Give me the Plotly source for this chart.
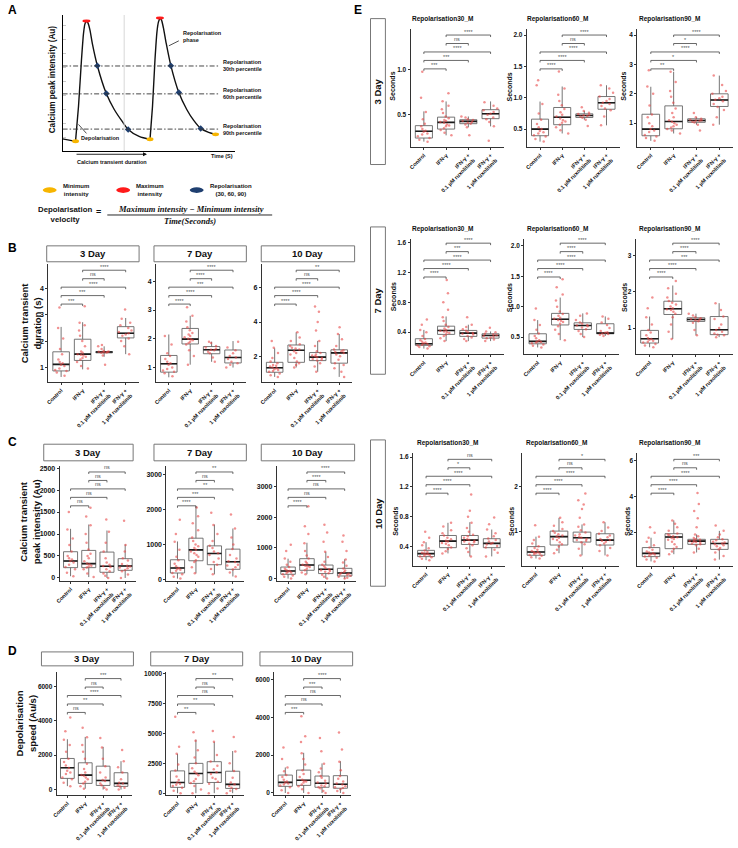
import plotly.graph_objects as go

W, H = 738, 848
FONT = "Liberation Sans"

def px(x):
    return x / W

def py(y):
    return 1 - y / H

# ---------------- DATA ----------------
GROUPS = ["Control", "IFN-γ", "IFN-γ + 0.1 µM", "IFN-γ + 1 µM"]
GROUP_TICKS = ["Control", "IFN-γ", "IFN-γ +<br>0.1 µM ruxolitinib", "IFN-γ +<br>1 µM ruxolitinib"]
PAIRS = [(0, 1), (0, 2), (0, 3), (1, 2), (1, 3)]
DAYS = ["3 Day", "7 Day", "10 Day"]
E_TITLES = ["Repolarisation30_M", "Repolarisation60_M", "Repolarisation90_M"]

# box stats per group: (lower whisker, q1, median, q3, upper whisker)
# B: calcium transient duration (s)
B3_box = [(0.63, 0.86, 1.11, 1.59, 2.54), (0.92, 1.26, 1.5, 2.07, 2.72), (1.4, 1.55, 1.58, 1.6, 1.8), (1.5, 2.12, 2.3, 2.55, 2.88)]
B3_pts = [[0.68, 0.8, 0.9, 0.95, 1.05, 1.1, 1.15, 1.3, 1.5, 1.7, 2.1, 2.5, 3.28, 0.86, 1.2],
          [0.95, 1.05, 1.2, 1.3, 1.4, 1.45, 1.5, 1.55, 1.6, 1.8, 2.0, 2.2, 2.4, 2.6, 2.7, 3.33, 1.35, 1.48],
          [1.1, 1.45, 1.55, 1.56, 1.57, 1.58, 1.59, 1.6, 1.62, 1.7, 1.8, 1.85],
          [1.5, 1.8, 2.0, 2.1, 2.2, 2.25, 2.3, 2.35, 2.4, 2.5, 2.6, 2.7, 2.85, 3.2]]
B3_sig = ["***", "***", "****", "ns", "****"]

B7_box = [(0.66, 0.84, 1.13, 1.42, 2.15), (1.1, 1.82, 1.99, 2.36, 2.8), (1.2, 1.48, 1.62, 1.73, 1.9), (1.0, 1.16, 1.35, 1.61, 1.92)]
B7_pts = [[0.7, 0.8, 0.85, 0.9, 1.0, 1.1, 1.15, 1.2, 1.3, 1.4, 1.5, 1.8, 2.1, 0.95],
          [1.1, 1.4, 1.6, 1.8, 1.85, 1.9, 1.95, 2.0, 2.05, 2.1, 2.2, 2.3, 2.4, 2.6, 2.8, 3.1, 1.98, 2.15],
          [1.2, 1.35, 1.5, 1.55, 1.6, 1.62, 1.65, 1.7, 1.75, 1.85, 1.9],
          [1.0, 1.1, 1.15, 1.2, 1.3, 1.35, 1.4, 1.5, 1.6, 1.7, 1.9]]
B7_sig = ["****", "****", "***", "****", "****"]

B10_box = [(0.8, 1.07, 1.33, 1.65, 2.47), (1.35, 1.65, 2.35, 2.66, 3.4), (1.1, 1.75, 1.95, 2.22, 2.9), (0.8, 1.6, 2.2, 2.38, 3.3)]
B10_pts = [[0.8, 0.9, 1.0, 1.1, 1.2, 1.25, 1.3, 1.35, 1.4, 1.5, 1.6, 1.7, 1.9, 2.2, 2.5, 2.9, 1.15, 1.45],
           [1.35, 1.5, 1.6, 1.7, 1.9, 2.1, 2.3, 2.4, 2.5, 2.6, 2.7, 2.9, 3.1, 3.4, 2.2, 2.45],
           [1.1, 1.4, 1.6, 1.75, 1.8, 1.9, 1.95, 2.0, 2.1, 2.2, 2.3, 2.6, 2.9, 3.5, 4.0, 4.6, 4.9, 1.85, 2.05],
           [0.8, 1.1, 1.3, 1.5, 1.6, 1.8, 2.0, 2.1, 2.2, 2.3, 2.35, 2.4, 2.6, 3.0, 3.3, 3.7, 2.25]]
B10_sig = ["****", "****", "****", "ns", "**"]

# C: calcium transient peak intensity (Au)
C3_box = [(40, 235, 385, 597, 1118), (20, 235, 326, 627, 1216), (0, 129, 265, 589, 1080), (0, 174, 272, 439, 763)]
C3_pts = [[40, 120, 200, 250, 300, 350, 385, 420, 500, 600, 750, 900, 1100, 1500, 450],
          [20, 100, 200, 240, 280, 310, 330, 380, 450, 550, 650, 800, 1000, 1200, 1400, 1600, 260, 500],
          [0, 50, 100, 150, 200, 250, 270, 350, 450, 600, 800, 1050, 1330, 300],
          [0, 80, 150, 180, 220, 260, 280, 320, 400, 450, 600, 750, 1300, 240]]
C3_sig = ["ns", "ns", "ns", "ns", "ns"]

C7_box = [(30, 189, 330, 565, 1085), (180, 537, 847, 1178, 2090), (150, 424, 745, 960, 1565), (90, 294, 508, 867, 1452)]
C7_pts = [[30, 80, 150, 190, 250, 300, 330, 380, 450, 550, 650, 850, 1080, 1300, 1700, 280],
          [180, 350, 500, 550, 650, 750, 800, 850, 900, 1000, 1100, 1200, 1400, 1600, 1800, 2050, 700, 950],
          [150, 300, 420, 500, 600, 700, 750, 800, 900, 960, 1100, 1300, 1550, 1900],
          [90, 200, 290, 350, 420, 500, 520, 600, 700, 870, 1000, 1200, 1450, 1850, 400]]
C7_sig = ["****", "***", "**", "ns", "**"]

C10_box = [(0, 139, 246, 375, 647), (140, 269, 440, 647, 1165), (0, 162, 301, 440, 874), (0, 84, 181, 333, 625)]
C10_pts = [[0, 60, 100, 140, 180, 220, 250, 280, 320, 380, 450, 550, 650, 900, 1100, 200],
           [140, 200, 270, 320, 380, 420, 450, 500, 550, 650, 750, 900, 1150, 1450, 1700, 2350, 400],
           [0, 60, 120, 170, 220, 270, 300, 340, 400, 450, 550, 700, 870, 1200, 1500, 1750, 250],
           [0, 30, 60, 90, 120, 160, 180, 210, 260, 330, 420, 520, 620, 900, 1200, 1400, 140]]
C10_sig = ["****", "ns", "ns", "****", "****"]

# D: depolarisation speed (Au/s)
D3_box = [(200, 650, 1270, 1809, 2928), (50, 360, 840, 1559, 3066), (0, 240, 530, 1362, 2487), (0, 185, 360, 980, 1652)]
D3_pts = [[200, 400, 600, 700, 900, 1100, 1250, 1400, 1600, 1800, 2200, 2600, 2900, 3400, 4200, 1000],
          [50, 200, 350, 450, 600, 800, 850, 1000, 1200, 1500, 1800, 2200, 2600, 3050, 3600, 700],
          [0, 100, 250, 350, 500, 550, 700, 1000, 1350, 1800, 2450, 3000],
          [0, 100, 180, 250, 350, 400, 600, 1000, 1300, 1650, 2300]]
D3_sig = ["ns", "**", "****", "ns", "***"]

D7_box = [(0, 490, 900, 1870, 3300), (0, 820, 1650, 2500, 4490), (0, 900, 1730, 2640, 4300), (0, 400, 740, 1840, 3530)]
D7_pts = [[0, 200, 450, 600, 800, 900, 1100, 1400, 1900, 2400, 3300, 3900, 6400, 700],
          [0, 300, 600, 850, 1200, 1500, 1650, 1800, 2100, 2500, 3000, 3600, 4400, 5100, 1000],
          [0, 400, 800, 950, 1300, 1600, 1750, 2000, 2300, 2650, 3200, 4300, 5200, 1200],
          [0, 200, 350, 450, 600, 750, 900, 1300, 1850, 2500, 3500, 4700]]
D7_sig = ["**", "**", "ns", "ns", "**"]

D10_box = [(0, 350, 560, 947, 1350), (0, 400, 670, 1210, 2125), (0, 300, 510, 895, 1560), (0, 250, 460, 915, 1680)]
D10_pts = [[0, 150, 300, 400, 500, 550, 600, 700, 850, 950, 1150, 1350, 1800, 2400, 450],
           [0, 200, 350, 450, 550, 650, 700, 850, 1000, 1200, 1500, 1800, 2100, 2700, 3000, 4050, 600],
           [0, 100, 250, 300, 400, 500, 550, 650, 800, 900, 1100, 1300, 1550, 2200, 2900, 350],
           [0, 100, 200, 260, 350, 450, 500, 600, 750, 900, 1200, 1650, 2300, 3200, 300]]
D10_sig = ["***", "ns", "ns", "***", "****"]

# E: repolarisation times (s)
E3_30_box = [(0.2, 0.24, 0.315, 0.378, 0.537), (0.27, 0.34, 0.414, 0.473, 0.648), (0.36, 0.40, 0.426, 0.444, 0.48), (0.37, 0.456, 0.511, 0.556, 0.648)]
E3_30_pts = [[0.2, 0.22, 0.24, 0.26, 0.29, 0.31, 0.32, 0.34, 0.37, 0.4, 0.45, 0.53, 0.69, 0.98, 0.28],
             [0.27, 0.3, 0.33, 0.35, 0.37, 0.39, 0.41, 0.42, 0.44, 0.46, 0.48, 0.52, 0.56, 0.6, 0.65, 0.74, 0.38, 0.43],
             [0.27, 0.36, 0.39, 0.4, 0.41, 0.42, 0.43, 0.44, 0.45, 0.47, 0.48],
             [0.21, 0.37, 0.42, 0.45, 0.47, 0.5, 0.51, 0.53, 0.55, 0.57, 0.6, 0.64]]
E3_30_sig = ["***", "***", "****", "ns", "****"]

E3_60_box = [(0.3, 0.394, 0.5, 0.659, 0.94), (0.43, 0.57, 0.69, 0.845, 1.18), (0.65, 0.686, 0.717, 0.744, 0.79), (0.56, 0.817, 0.92, 1.02, 1.2)]
E3_60_pts = [[0.3, 0.34, 0.38, 0.4, 0.43, 0.47, 0.5, 0.53, 0.58, 0.65, 0.75, 0.9, 1.2, 1.28, 0.45],
             [0.43, 0.48, 0.53, 0.57, 0.6, 0.64, 0.67, 0.7, 0.73, 0.77, 0.82, 0.88, 0.95, 1.05, 1.15, 1.42, 0.62],
             [0.55, 0.65, 0.68, 0.7, 0.71, 0.72, 0.73, 0.74, 0.76, 0.79, 0.85],
             [0.56, 0.7, 0.8, 0.83, 0.87, 0.9, 0.92, 0.95, 0.98, 1.02, 1.08, 1.15, 1.2]]
E3_60_sig = ["****", "****", "****", "ns", "****"]

E3_90_box = [(0.4, 0.573, 0.797, 1.305, 2.24), (0.65, 0.81, 1.058, 1.59, 2.75), (0.95, 1.03, 1.09, 1.15, 1.2), (0.95, 1.57, 1.79, 2.0, 2.62)]
E3_90_pts = [[0.4, 0.5, 0.55, 0.6, 0.7, 0.75, 0.8, 0.9, 1.0, 1.2, 1.3, 1.6, 2.0, 2.25, 2.8],
             [0.65, 0.75, 0.8, 0.85, 0.95, 1.0, 1.05, 1.1, 1.2, 1.35, 1.5, 1.7, 1.9, 2.1, 2.4, 2.75, 0.9],
             [0.75, 0.95, 1.02, 1.05, 1.08, 1.09, 1.1, 1.12, 1.15, 1.2, 1.35],
             [0.95, 1.2, 1.45, 1.55, 1.65, 1.75, 1.8, 1.85, 1.9, 2.0, 2.1, 2.3, 2.62]]
E3_90_sig = ["**", "*", "****", "*", "****"]

E7_30_box = [(0.18, 0.223, 0.245, 0.312, 0.43), (0.28, 0.37, 0.423, 0.48, 0.61), (0.28, 0.343, 0.387, 0.423, 0.5), (0.28, 0.32, 0.356, 0.378, 0.41)]
E7_30_pts = [[0.18, 0.2, 0.21, 0.22, 0.23, 0.24, 0.25, 0.27, 0.29, 0.31, 0.35, 0.4, 0.43, 0.5, 0.57, 0.26],
             [0.28, 0.32, 0.35, 0.37, 0.39, 0.41, 0.42, 0.43, 0.45, 0.47, 0.5, 0.55, 0.6, 0.7, 0.8, 0.92, 1.1, 0.4],
             [0.28, 0.31, 0.33, 0.35, 0.37, 0.38, 0.39, 0.4, 0.42, 0.44, 0.47, 0.5, 0.6],
             [0.28, 0.3, 0.32, 0.33, 0.34, 0.35, 0.36, 0.37, 0.38, 0.4, 0.41, 0.46]]
E7_30_sig = ["****", "****", "****", "***", "****"]

E7_60_box = [(0.33, 0.39, 0.43, 0.555, 0.78), (0.45, 0.70, 0.794, 0.89, 1.15), (0.5, 0.626, 0.69, 0.735, 0.89), (0.52, 0.555, 0.566, 0.72, 0.84)]
E7_60_pts = [[0.33, 0.36, 0.38, 0.4, 0.41, 0.42, 0.43, 0.45, 0.48, 0.52, 0.56, 0.62, 0.7, 0.78, 0.97],
             [0.45, 0.55, 0.62, 0.68, 0.72, 0.75, 0.78, 0.8, 0.82, 0.85, 0.88, 0.92, 1.0, 1.1, 1.2, 1.32, 1.45, 0.77],
             [0.5, 0.55, 0.6, 0.63, 0.66, 0.68, 0.69, 0.7, 0.72, 0.74, 0.78, 0.85, 0.89],
             [0.52, 0.54, 0.55, 0.56, 0.57, 0.58, 0.6, 0.65, 0.7, 0.74, 0.8, 0.84]]
E7_60_sig = ["****", "****", "****", "****", "****"]

E7_90_box = [(0.47, 0.587, 0.708, 0.937, 1.32), (0.7, 1.377, 1.534, 1.744, 2.18), (0.8, 1.185, 1.24, 1.286, 1.4), (0.75, 0.82, 0.955, 1.32, 1.69)]
E7_90_pts = [[0.47, 0.52, 0.56, 0.6, 0.65, 0.68, 0.7, 0.73, 0.8, 0.88, 0.95, 1.1, 1.3, 1.55, 1.85, 0.62],
             [0.7, 0.9, 1.1, 1.3, 1.4, 1.45, 1.5, 1.55, 1.6, 1.65, 1.7, 1.75, 1.85, 1.95, 2.1, 2.3, 1.52],
             [0.8, 0.95, 1.15, 1.19, 1.22, 1.24, 1.25, 1.27, 1.3, 1.35, 1.4],
             [0.75, 0.8, 0.82, 0.85, 0.9, 0.95, 1.0, 1.1, 1.25, 1.32, 1.5, 1.69]]
E7_90_sig = ["****", "****", "***", "****", "****"]

E10_30_box = [(0.22, 0.267, 0.307, 0.351, 0.46), (0.31, 0.387, 0.475, 0.55, 0.72), (0.27, 0.43, 0.488, 0.55, 0.728), (0.27, 0.387, 0.444, 0.507, 0.63)]
E10_30_pts = [[0.22, 0.24, 0.26, 0.27, 0.28, 0.29, 0.3, 0.31, 0.32, 0.33, 0.35, 0.38, 0.42, 0.46, 0.52, 0.6, 0.3],
              [0.31, 0.34, 0.37, 0.39, 0.42, 0.45, 0.47, 0.48, 0.5, 0.52, 0.55, 0.58, 0.62, 0.67, 0.72, 0.44],
              [0.27, 0.33, 0.38, 0.42, 0.44, 0.46, 0.48, 0.49, 0.5, 0.52, 0.54, 0.56, 0.6, 0.65, 0.72, 0.8, 0.88, 1.1, 0.47],
              [0.27, 0.32, 0.36, 0.39, 0.41, 0.43, 0.44, 0.45, 0.47, 0.49, 0.51, 0.54, 0.58, 0.63, 0.7, 0.79]]
E10_30_sig = ["****", "****", "****", "*", "ns"]

E10_60_box = [(0.38, 0.453, 0.527, 0.649, 0.874), (0.5, 0.685, 0.874, 1.0, 1.3), (0.45, 0.752, 0.85, 0.977, 1.15), (0.45, 0.685, 0.797, 0.94, 1.2)]
E10_60_pts = [[0.38, 0.41, 0.44, 0.46, 0.48, 0.5, 0.52, 0.53, 0.55, 0.58, 0.62, 0.66, 0.72, 0.8, 0.87, 1.13, 0.49],
              [0.5, 0.58, 0.65, 0.7, 0.75, 0.8, 0.85, 0.88, 0.9, 0.93, 0.96, 1.0, 1.05, 1.12, 1.2, 1.3, 0.82],
              [0.45, 0.6, 0.7, 0.75, 0.78, 0.82, 0.85, 0.87, 0.9, 0.93, 0.97, 1.02, 1.1, 1.15, 1.3, 1.5, 1.6, 1.7, 1.85, 0.8],
              [0.45, 0.55, 0.62, 0.68, 0.72, 0.76, 0.8, 0.82, 0.86, 0.9, 0.94, 1.0, 1.08, 1.2, 0.78]]
E10_60_sig = ["****", "****", "****", "ns", "*"]

E10_90_box = [(0.4, 0.667, 0.85, 1.17, 1.72), (0.8, 1.11, 1.756, 1.944, 2.68), (0.9, 1.35, 1.53, 1.63, 1.9), (0.5, 1.07, 1.4, 1.63, 2.1)]
E10_90_pts = [[0.4, 0.5, 0.6, 0.67, 0.72, 0.78, 0.85, 0.9, 0.95, 1.05, 1.17, 1.3, 1.5, 1.72, 2.0, 2.3, 0.8],
              [0.8, 0.95, 1.1, 1.2, 1.35, 1.5, 1.6, 1.7, 1.75, 1.8, 1.85, 1.9, 1.95, 2.1, 2.3, 2.5, 2.68, 1.65],
              [0.9, 1.1, 1.3, 1.35, 1.4, 1.45, 1.5, 1.53, 1.56, 1.6, 1.63, 1.7, 1.8, 1.9, 2.3, 2.8, 3.2, 3.6, 4.2, 1.48],
              [0.5, 0.7, 0.9, 1.07, 1.15, 1.25, 1.35, 1.4, 1.45, 1.5, 1.58, 1.63, 1.75, 1.9, 2.1, 2.4, 1.3]]
E10_90_sig = ["****", "****", "****", "ns", "***"]

# Panel A schematic (arbitrary time / intensity units)
A_pre_t = [0, 13]
A_pre_v = [12.5, 10]
A_rise1_t = [13, 16, 19, 21, 22.5, 24]
A_rise1_v = [10, 45, 92, 118, 128, 131]
A_decay1_t = [24, 25.5, 27.5, 30, 35, 44, 52, 60, 66, 77, 88]
A_decay1_v = [131, 129, 122, 108, 86, 58, 42, 30, 22, 15, 12]
A_rise2_t = [88, 90.5, 93, 95, 96.5, 98]
A_rise2_v = [12, 45, 92, 120, 130, 134]
A_decay2_t = [98, 99.5, 101.5, 104, 109, 117, 125, 132, 139, 147, 154]
A_decay2_v = [134, 132, 124, 110, 86, 59, 42, 31, 23, 19, 17]
A_min_t = [13, 88, 154]
A_min_v = [10, 12, 17]
A_max_t = [24, 98]
A_max_v = [131, 134]
A_repol_t = [35, 44, 66, 109, 117, 139]
A_repol_v = [86, 58, 22, 86, 59, 23]
A_pct_levels = [85.7, 57.7, 22.3]
A_pct_labels = ["Repolarisation<br>30th percentile", "Repolarisation<br>60th percentile", "Repolarisation<br>90th percentile"]

# ---------------- LAYOUT SPECS ----------------
PANELS = [
    dict(box=B3_box, pts=B3_pts, sig=B3_sig, g=(43.5, 134.5, 263, 382), yr=(0.43, 4.95), tv=[1, 2, 3, 4], tf=7),
    dict(box=B7_box, pts=B7_pts, sig=B7_sig, g=(152, 242.5, 263, 382), yr=(0.49, 4.61), tv=[1, 2, 3, 4], tf=7),
    dict(box=B10_box, pts=B10_pts, sig=B10_sig, g=(258.5, 349.5, 263, 382), yr=(0.49, 7.4), tv=[2, 4, 6], tf=7),
    dict(box=C3_box, pts=C3_pts, sig=C3_sig, g=(55, 132, 465.7, 581.7), yr=(-68, 2559), tv=[0, 500, 1000, 1500, 2000, 2500], tf=7),
    dict(box=C7_box, pts=C7_pts, sig=C7_sig, g=(162.5, 240.6, 465.7, 581.7), yr=(-37, 3243), tv=[0, 1000, 2000, 3000], tf=7),
    dict(box=C10_box, pts=C10_pts, sig=C10_sig, g=(273.6, 353.4, 465.7, 581.7), yr=(-78, 3680), tv=[0, 1000, 2000, 3000], tf=7),
    dict(box=D3_box, pts=D3_pts, sig=D3_sig, g=(52, 127.6, 673.3, 797), yr=(-330, 6835), tv=[0, 2000, 4000, 6000], tf=6.5),
    dict(box=D7_box, pts=D7_pts, sig=D7_sig, g=(162.6, 240.3, 673.3, 797), yr=(-170, 10140), tv=[0, 2500, 5000, 7500, 10000], tf=6.5),
    dict(box=D10_box, pts=D10_pts, sig=D10_sig, g=(271.1, 348.8, 673.3, 797), yr=(-120, 6390), tv=[0, 2000, 4000, 6000], tf=6.5),
    dict(box=E3_30_box, pts=E3_30_pts, sig=E3_30_sig, g=(408.3, 502.3, 26.7, 145.7), yr=(0.14, 1.46), tv=[0.5, 1.0], tt=["0.5", "1.0"], tf=6.5),
    dict(box=E3_60_box, pts=E3_60_pts, sig=E3_60_sig, g=(525.3, 619, 26.7, 145.7), yr=(0.214, 2.105), tv=[0.5, 1.0, 1.5, 2.0], tt=["0.5", "1.0", "1.5", "2.0"], tf=6.5),
    dict(box=E3_90_box, pts=E3_90_pts, sig=E3_90_sig, g=(636.4, 733, 26.7, 145.7), yr=(0.19, 4.22), tv=[1, 2, 3, 4], tf=6.5),
    dict(box=E7_30_box, pts=E7_30_pts, sig=E7_30_sig, g=(408.3, 502.3, 238.3, 354), yr=(0.103, 1.645), tv=[0.4, 0.8, 1.2, 1.6], tt=["0.4", "0.8", "1.2", "1.6"], tf=6.5, bs=-2.5),
    dict(box=E7_60_box, pts=E7_60_pts, sig=E7_60_sig, g=(522.7, 618, 238.3, 354), yr=(0.217, 2.11), tv=[0.5, 1.0, 1.5, 2.0], tt=["0.5", "1.0", "1.5", "2.0"], tf=6.5, bs=-2.5),
    dict(box=E7_90_box, pts=E7_90_pts, sig=E7_90_sig, g=(635, 733, 238.3, 354), yr=(0.275, 3.46), tv=[1, 2, 3], tf=6.5, bs=-2.5),
    dict(box=E10_30_box, pts=E10_30_pts, sig=E10_30_sig, g=(410.7, 503.3, 453, 566.7), yr=(0.141, 1.657), tv=[0.4, 0.8, 1.2, 1.6], tt=["0.4", "0.8", "1.2", "1.6"], tf=6.5),
    dict(box=E10_60_box, pts=E10_60_pts, sig=E10_60_sig, g=(520.7, 618, 453, 566.7), yr=(0.21, 2.77), tv=[1, 2], tf=6.5),
    dict(box=E10_90_box, pts=E10_90_pts, sig=E10_90_sig, g=(636.7, 733, 453, 566.7), yr=(0.144, 6.44), tv=[2, 4, 6], tf=6.5),
]

BRACKET_OFFSETS = [40.5, 32, 23.5, 15, 6.5]  # px below plot top, per PAIRS
AXIS_COLOR = "#333333"
BOX_LINE = "#666666"
PT_COLOR = "rgba(232,72,72,0.6)"
WIDTH = 0.77

fig = go.Figure()
layout = dict(
    width=W, height=H, margin=dict(l=0, r=0, t=0, b=0),
    paper_bgcolor="white", plot_bgcolor="white", showlegend=False,
    boxmode="overlay", font=dict(family=FONT, color="#111"),
)
shapes = []
annotations = []


def bold(size, color="#111", family=FONT):
    return dict(family=family, size=size, color=color, weight="bold")


def ids(i):
    s = "" if i == 1 else str(i)
    return "x" + s, "y" + s, "xaxis" + s, "yaxis" + s


for i, p in enumerate(PANELS, start=1):
    xa, ya, xk, yk = ids(i)
    x0, x1, y0, y1 = p["g"]
    layout[xk] = dict(
        domain=[px(x0), px(x1)], anchor=ya, type="category",
        categoryorder="array", categoryarray=GROUPS,
        tickvals=GROUPS, ticktext=GROUP_TICKS, range=[-0.6, 3.6],
        tickangle=-45, tickfont=bold(5.5), showline=True, linecolor=AXIS_COLOR,
        linewidth=1, ticks="outside", ticklen=2, tickcolor=AXIS_COLOR,
        showgrid=False, zeroline=False,
    )
    tt = p.get("tt") or [str(v) for v in p["tv"]]
    layout[yk] = dict(
        domain=[py(y1), py(y0)], anchor=xa, range=list(p["yr"]),
        tickvals=p["tv"], ticktext=tt, tickfont=bold(p["tf"]),
        showline=True, linecolor=AXIS_COLOR, linewidth=1, ticks="outside",
        ticklen=2, tickcolor=AXIS_COLOR, showgrid=False, zeroline=False,
    )
    lo = [b[0] for b in p["box"]]
    q1 = [b[1] for b in p["box"]]
    med = [b[2] for b in p["box"]]
    q3 = [b[3] for b in p["box"]]
    hi = [b[4] for b in p["box"]]
    fig.add_trace(go.Box(
        x=GROUPS, q1=q1, median=med, q3=q3, lowerfence=lo, upperfence=hi,
        orientation="v", boxpoints=False, whiskerwidth=0, width=WIDTH,
        line=dict(color=BOX_LINE, width=0.9), fillcolor="white",
        xaxis=xa, yaxis=ya, hoverinfo="skip",
    ))
    fig.add_trace(go.Box(
        x=GROUPS, q1=med, median=med, q3=med, lowerfence=med, upperfence=med,
        orientation="v", boxpoints=False, whiskerwidth=0, width=WIDTH,
        line=dict(color="#1a1a1a", width=1.6), fillcolor="rgba(0,0,0,0)",
        xaxis=xa, yaxis=ya, hoverinfo="skip",
    ))
    xs, ys = [], []
    for gi, vals in enumerate(p["pts"]):
        xs += [GROUPS[gi]] * len(vals)
        ys += vals
    fig.add_trace(go.Box(
        x=xs, y=ys, boxpoints="all", jitter=0.85, pointpos=0, width=WIDTH,
        line=dict(width=0, color="rgba(0,0,0,0)"), fillcolor="rgba(0,0,0,0)",
        marker=dict(size=2.5, color=PT_COLOR), whiskerwidth=0,
        xaxis=xa, yaxis=ya, hoverinfo="skip",
    ))
    hpx = y1 - y0
    shift = p.get("bs", 0)
    for (a, b), off, lab in zip(PAIRS, BRACKET_OFFSETS, p["sig"]):
        f = 1 - (off + shift) / hpx
        ft = f - 2.0 / hpx
        yd = f"{ya} domain"
        ln = dict(color="#444", width=0.8)
        shapes.append(dict(type="line", xref=xa, yref=yd, x0=a, x1=b, y0=f, y1=f, line=ln))
        shapes.append(dict(type="line", xref=xa, yref=yd, x0=a, x1=a, y0=f, y1=ft, line=ln))
        shapes.append(dict(type="line", xref=xa, yref=yd, x0=b, x1=b, y0=f, y1=ft, line=ln))
        annotations.append(dict(
            xref=xa, yref=yd, x=(a + b) / 2, y=f, text=lab, showarrow=False,
            yanchor="bottom", xanchor="center", yshift=-1.5 if lab.startswith("*") else -0.5,
            font=dict(family=FONT, size=5.5, color="#555"),
        ))

# ---------- strips (B, C, D) ----------
STRIPS = [
    ((245, 261), [(42, 135), (150, 243), (258, 352)]),
    ((444.3, 461), [(39, 129), (150, 243), (258, 352)]),
    ((653, 667), [(36.7, 129.3), (146.7, 239.3), (256.7, 350)]),
]
for (sy0, sy1), xs_ in STRIPS:
    for (sx0, sx1), day in zip(xs_, DAYS):
        shapes.append(dict(type="rect", xref="paper", yref="paper",
                           x0=px(sx0), x1=px(sx1), y0=py(sy1), y1=py(sy0),
                           line=dict(color="#777", width=1), fillcolor="white"))
        annotations.append(dict(xref="paper", yref="paper", x=px((sx0 + sx1) / 2),
                                y=py((sy0 + sy1) / 2), text=day, showarrow=False,
                                xanchor="center", yanchor="middle", font=bold(9.5)))

# ---------- E side strips, titles, y labels ----------
E_SIDE = [(16.7, 163.3), (226, 374), (440, 587)]
for (sy0, sy1), day in zip(E_SIDE, DAYS):
    shapes.append(dict(type="rect", xref="paper", yref="paper", x0=px(368), x1=px(383),
                       y0=py(sy1), y1=py(sy0), line=dict(color="#777", width=1),
                       fillcolor="white"))
    annotations.append(dict(xref="paper", yref="paper", x=px(375.5), y=py((sy0 + sy1) / 2),
                            text=day, showarrow=False, textangle=-90, font=bold(9.5),
                            xanchor="center", yanchor="middle"))

E_TITLE_POS = [(17.3, [407.7, 523.3, 636.7]), (228.3, [407.7, 523.3, 636.7]), (442.7, [412.7, 522.7, 636.7])]
for ty, xl in E_TITLE_POS:
    for tx, t in zip(xl, E_TITLES):
        annotations.append(dict(xref="paper", yref="paper", x=px(tx), y=py(ty), text=t,
                                showarrow=False, xanchor="left", yanchor="middle",
                                font=bold(6.5)))

E_YLAB_POS = [(85, [390.7, 508.3, 623.3]), (296.7, [390.7, 507.3, 624]), (521.7, [393.3, 509.3, 626])]
for ty, xl in E_YLAB_POS:
    for tx in xl:
        annotations.append(dict(xref="paper", yref="paper", x=px(tx), y=py(ty), text="Seconds",
                                showarrow=False, textangle=-90, xanchor="center",
                                yanchor="middle", font=bold(7)))

# ---------- B, C, D y titles ----------
for txt, (tx, ty) in [("Calcium transient<br>duration (s)", (26, 322)),
                      ("Calcium transient<br>peak intensity (Au)", (25, 522)),
                      ("Depolarisation<br>speed (Au/s)", (21, 725))]:
    annotations.append(dict(xref="paper", yref="paper", x=px(tx), y=py(ty), text=txt,
                            showarrow=False, textangle=-90, xanchor="center",
                            yanchor="middle", font=bold(9.5)))

# ---------- panel letters ----------
for letter, (lx, ly) in [("A", (8, 8)), ("B", (8, 247)), ("C", (8, 442)), ("D", (8, 652)), ("E", (355, 8))]:
    annotations.append(dict(xref="paper", yref="paper", x=px(lx), y=py(ly), text=letter,
                            showarrow=False, xanchor="center", yanchor="middle",
                            font=bold(12, "#000")))

# ---------- Panel A ----------
ax_, ay_ = "x19", "y19"
layout["xaxis19"] = dict(domain=[px(58), px(232)], anchor=ay_, range=[0, 174],
                         showline=True, linecolor="#000", linewidth=1.3, showticklabels=False,
                         ticks="", showgrid=False, zeroline=False)
layout["yaxis19"] = dict(domain=[py(150), py(13)], anchor=ax_, range=[0, 137],
                         showline=True, linecolor="#000", linewidth=1.3, showticklabels=False,
                         ticks="inside", ticklen=3, tickcolor="#c8c8c8",
                         tickvals=[14, 28, 42, 56, 70, 84, 98, 112, 126],
                         showgrid=False, zeroline=False)
shapes.append(dict(type="line", xref=ax_, yref=ay_, x0=62, x1=62, y0=0, y1=137,
                   line=dict(color="#d8d8d8", width=1)))
for lv in A_pct_levels:
    shapes.append(dict(type="line", xref=ax_, yref=ay_, x0=0, x1=157, y0=lv, y1=lv,
                       line=dict(color="#333", width=0.9, dash="5px,2px,1.5px,2px")))
for tx, tyv in [(A_pre_t, A_pre_v), (A_rise1_t, A_rise1_v), (A_rise2_t, A_rise2_v)]:
    fig.add_trace(go.Scatter(x=tx, y=tyv, mode="lines", line=dict(color="#111", width=1.4, shape="spline", smoothing=0.5),
                             xaxis=ax_, yaxis=ay_, hoverinfo="skip"))
for tx, tyv in [(A_decay1_t, A_decay1_v), (A_decay2_t, A_decay2_v)]:
    fig.add_trace(go.Scatter(x=tx, y=tyv, mode="lines", line=dict(color="#111", width=1.4, shape="spline", smoothing=0.8),
                             xaxis=ax_, yaxis=ay_, hoverinfo="skip"))
fig.add_trace(go.Scatter(x=A_repol_t, y=A_repol_v, mode="markers",
                         marker=dict(symbol="diamond", size=5, color="#1f3f70"),
                         xaxis=ax_, yaxis=ay_, hoverinfo="skip"))
for t, v in zip(A_min_t, A_min_v):
    shapes.append(dict(type="circle", xref=ax_, yref=ay_, x0=t - 3.5, x1=t + 3.5, y0=v - 2, y1=v + 2,
                       fillcolor="#f7b500", line=dict(width=0)))
for t, v in zip(A_max_t, A_max_v):
    shapes.append(dict(type="circle", xref=ax_, yref=ay_, x0=t - 4, x1=t + 4, y0=v - 1.5, y1=v + 1.5,
                       fillcolor="#ff1a1a", line=dict(width=0)))
# leader lines
shapes.append(dict(type="line", xref=ax_, yref=ay_, x0=107, x1=117, y0=106, y1=111, line=dict(color="#222", width=0.8)))
shapes.append(dict(type="line", xref=ax_, yref=ay_, x0=16, x1=24, y0=27, y1=18, line=dict(color="#222", width=0.8)))

def note(text, X, Y, size=5.5, xanchor="left", align="left", angle=0, font=None):
    annotations.append(dict(xref="paper", yref="paper", x=px(X), y=py(Y), text=text,
                            showarrow=False, xanchor=xanchor, yanchor="middle", align=align,
                            textangle=angle, font=font or bold(size)))

note("Calcium peak intensity (Au)", 48, 78, xanchor="center", angle=-90, font=bold(8.2))
note("Repolarisation<br>phase", 177, 34.5)
for lab, lv in zip(A_pct_labels, A_pct_levels):
    note(lab, 217, 150 - lv)
note("Depolarisation", 75, 137)
note("Time (S)", 205, 154.5)
note("Calcium transient duration", 108, 161, xanchor="center", align="center")
annotations.append(dict(xref="paper", yref="paper", x=px(143), y=py(153), ax=-72, ay=0,
                        text="", showarrow=True, arrowhead=2, arrowsize=0.9, arrowwidth=0.9,
                        arrowcolor="#111"))

# legend
for (cx, col), lab, lx in [((45, "#f7b500"), "Minimum<br>intensity", 71),
                           ((119, "#ff1a1a"), "Maximum<br>intensity", 146),
                           ((193, "#1f3f70"), "Repolarisation<br>(30, 60, 90)", 228)]:
    shapes.append(dict(type="circle", xref="paper", yref="paper", x0=px(cx - 7), x1=px(cx + 7),
                       y0=py(191.8), y1=py(186.2), fillcolor=col, line=dict(width=0)))
    note(lab, lx, 189, size=6, xanchor="center", align="center")

# formula
note("Depolarisation<br>velocity", 60, 214, xanchor="center", align="center", font=bold(7.8))
note("=", 94, 211, xanchor="center", font=bold(9))
serif = dict(family="Liberation Serif", size=8.5, color="#111", weight="bold", style="italic")
note("Maximum intensity − Minimum intensity", 187, 208, xanchor="center", font=serif)
note("Time(Seconds)", 186, 220.5, xanchor="center", font=serif)
shapes.append(dict(type="line", xref="paper", yref="paper", x0=px(103), x1=px(269),
                   y0=py(214), y1=py(214), line=dict(color="#111", width=0.9)))

layout["shapes"] = shapes
layout["annotations"] = annotations
fig.update_layout(**layout)
fig.write_html("out.html", config={"displayModeBar": False},
               post_script="document.body.style.margin='0';document.body.style.overflow='hidden';")
